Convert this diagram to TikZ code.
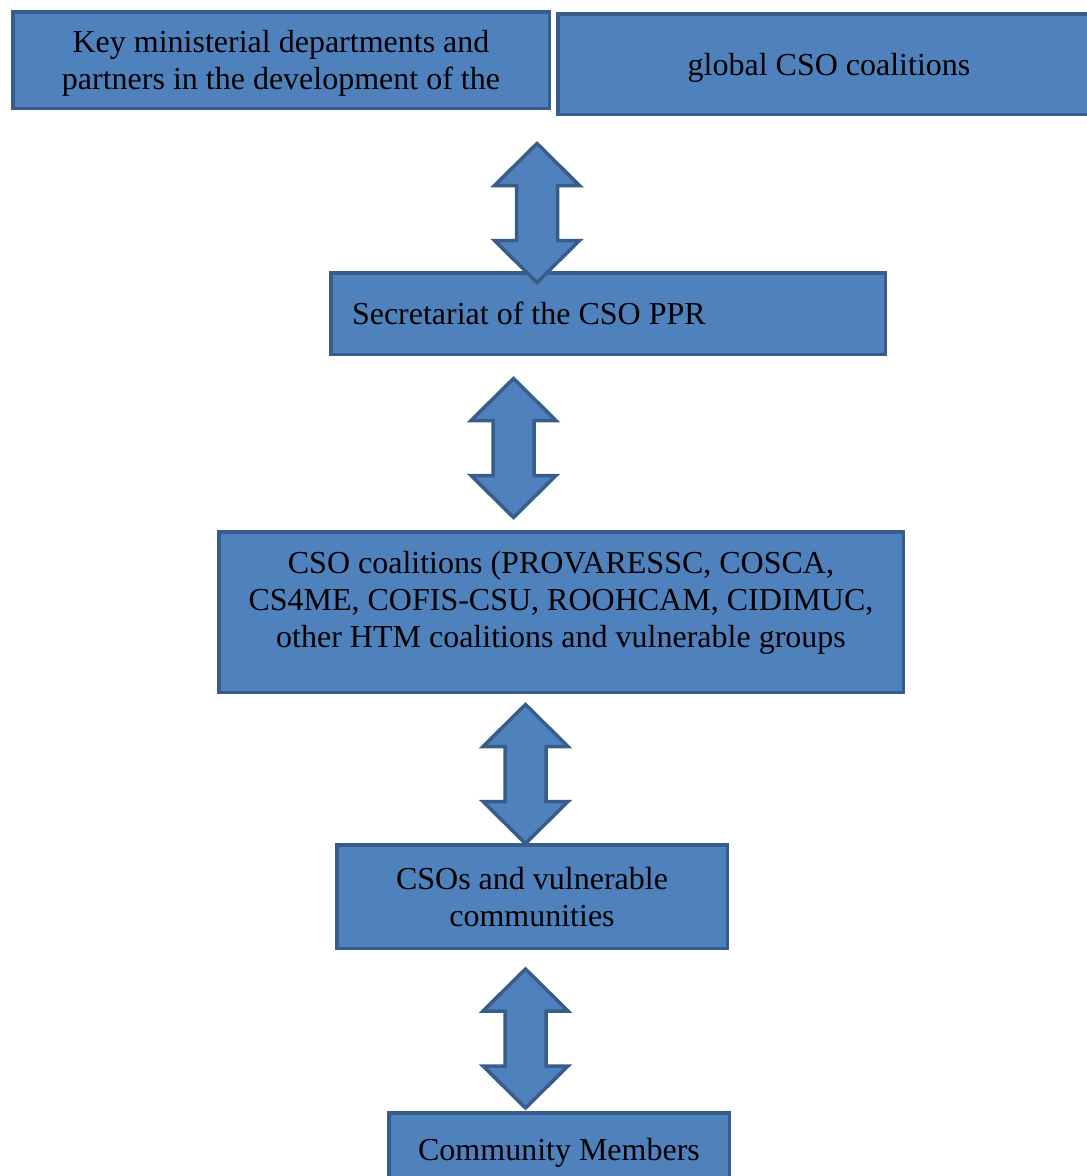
\documentclass[tikz,border=0pt]{standalone}
\usepackage{fontspec}
\setmainfont{Liberation Serif}
\definecolor{boxfill}{HTML}{4F81BD}
\definecolor{boxline}{HTML}{385D8A}
\begin{document}
\begin{tikzpicture}[x=1pt,y=-1pt,
  box/.style={draw=boxline, fill=boxfill, line width=3.5pt, rectangle, outer sep=0pt,
    inner sep=0pt, font=\fontsize{32}{37}\selectfont, align=center, text depth=0pt},
  arrowstyle/.style={draw=boxline, fill=boxfill, line width=3.5pt, line join=miter},
  dblarrow/.pic={\draw[arrowstyle] (0,-69.5) -- (42.5,-27.5) -- (20.5,-27.5) -- (20.5,27.5)
     -- (42.5,27.5) -- (0,69.5) -- (-42.5,27.5) -- (-20.5,27.5) -- (-20.5,-27.5)
     -- (-42.5,-27.5) -- cycle;}]
\useasboundingbox (0,0) rectangle (1087,1176);
\node[box, minimum width=536.5pt, minimum height=96.5pt] (key) at (281,60)
  {Key ministerial departments and\\partners in the development of the};
\node[box, minimum width=542pt, minimum height=100.5pt] (glob) at (829,64)
  {global CSO coalitions};
\node[box, minimum width=554.5pt, minimum height=81.5pt, text width=512pt, align=left] (sec) at (608,313.5)
  {\spaceskip=0pt \xspaceskip=0pt \mbox{Secretariat of the CSO PPR}};
\node[box, minimum width=684.5pt, minimum height=160.5pt, text depth=26pt] (coal) at (561,612)
  {CSO coalitions (PROVARESSC, COSCA,\\CS4ME, COFIS-CSU, ROOHCAM, CIDIMUC,\\other HTM coalitions and vulnerable groups};
\node[box, minimum width=390.5pt, minimum height=103.5pt] (csos) at (532,896.5)
  {CSOs and vulnerable\\communities};
\node[box, minimum width=340.5pt, minimum height=72pt] (comm) at (559,1149)
  {Community Members};
\pic (a1) at (537,213) {dblarrow};
\pic (a2) at (513.5,448) {dblarrow};
\pic (a3) at (525.5,774) {dblarrow};
\pic (a4) at (525.5,1038.5) {dblarrow};
\end{tikzpicture}
\end{document}
